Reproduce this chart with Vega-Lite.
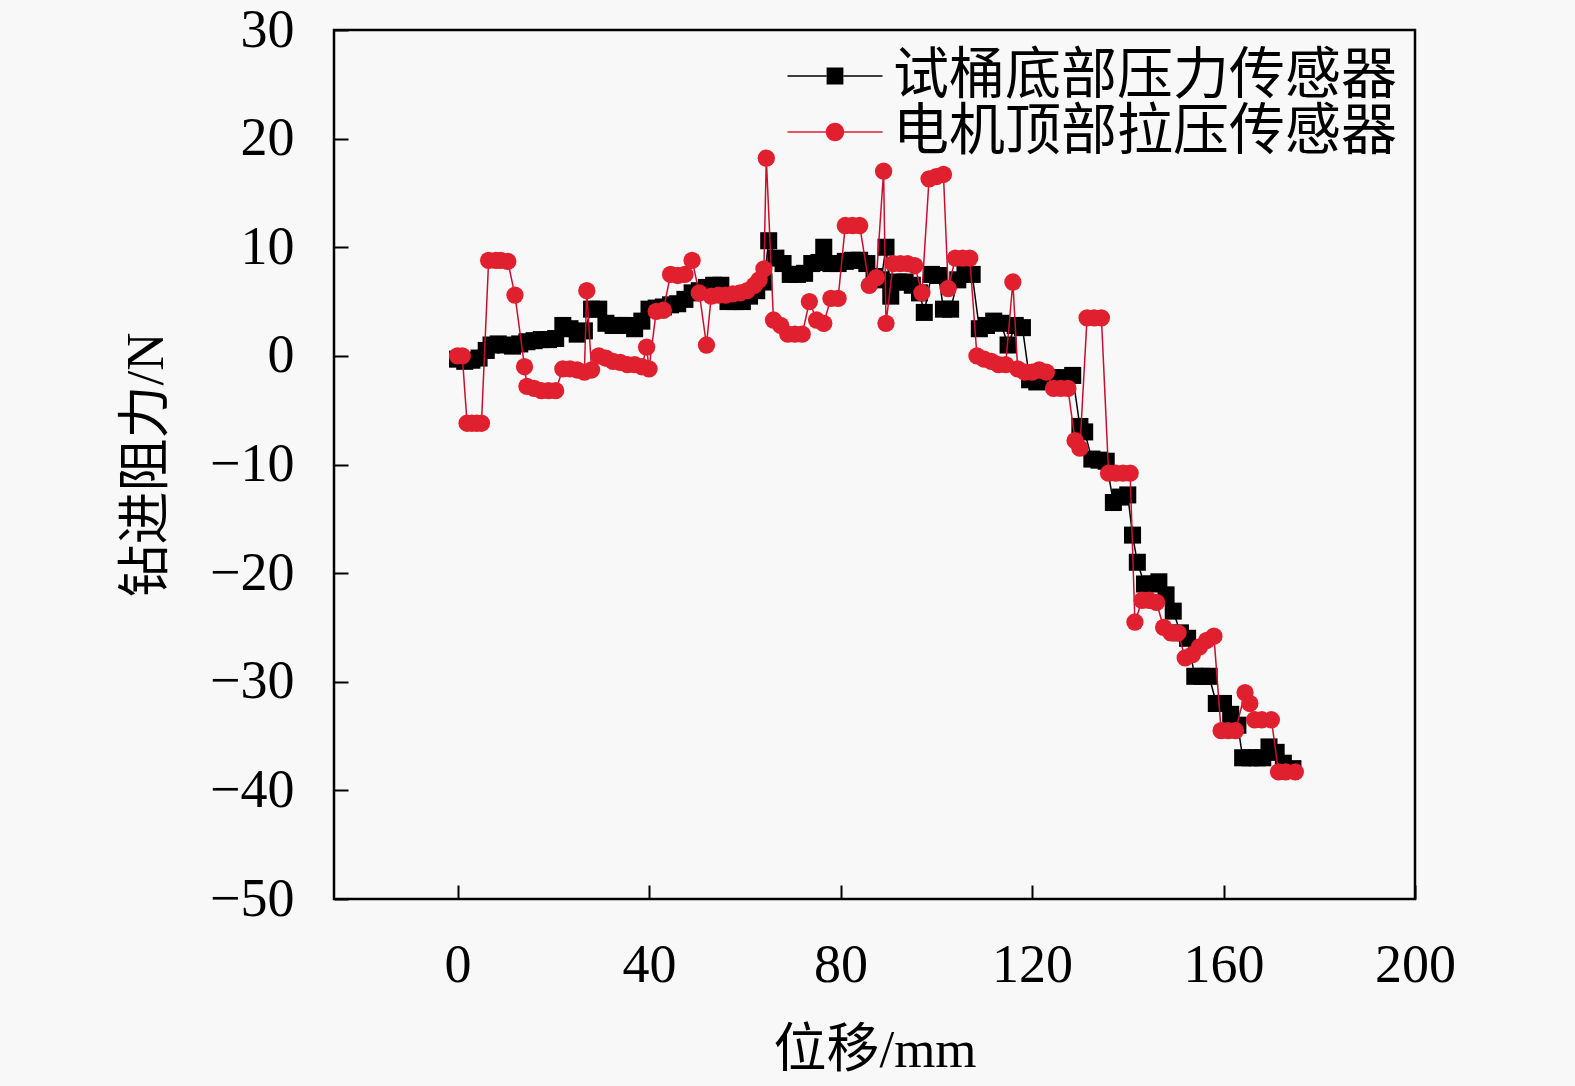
{
  "$schema": "https://vega.github.io/schema/vega-lite/v6.json",
  "width": 1081,
  "height": 869,
  "autosize": {"type": "none"},
  "padding": {"left": 334, "top": 30, "right": 160, "bottom": 187},
  "background": "#f8f8f8",
  "datasets": {
    "bottom": [
      {"x": 0, "y": -0.3}, {"x": 1.5, "y": -0.5}, {"x": 3, "y": -0.4}, {"x": 4.5, "y": -0.2},
      {"x": 6, "y": 0.5}, {"x": 7, "y": 1.0}, {"x": 8.5, "y": 1.1}, {"x": 10, "y": 1.0},
      {"x": 11.5, "y": 0.9}, {"x": 13, "y": 1.1}, {"x": 14.5, "y": 1.3}, {"x": 16, "y": 1.4},
      {"x": 17.5, "y": 1.5}, {"x": 19, "y": 1.5}, {"x": 20.5, "y": 1.6}, {"x": 22, "y": 2.8},
      {"x": 23.5, "y": 2.5}, {"x": 25, "y": 2.0}, {"x": 26.5, "y": 2.3}, {"x": 28, "y": 4.3},
      {"x": 29.5, "y": 4.3}, {"x": 31, "y": 3.0}, {"x": 32.5, "y": 2.8}, {"x": 34, "y": 2.8},
      {"x": 35.5, "y": 2.8}, {"x": 37, "y": 2.5}, {"x": 38.5, "y": 3.2}, {"x": 40, "y": 4.3},
      {"x": 41.5, "y": 4.4}, {"x": 43, "y": 4.5}, {"x": 44.5, "y": 4.7}, {"x": 46, "y": 4.8},
      {"x": 47.5, "y": 5.2}, {"x": 49, "y": 5.8}, {"x": 50.5, "y": 6.0}, {"x": 52, "y": 6.3},
      {"x": 53.5, "y": 6.5}, {"x": 55, "y": 6.5}, {"x": 56.5, "y": 5.0}, {"x": 58, "y": 5.0},
      {"x": 59.5, "y": 5.0}, {"x": 61, "y": 5.5}, {"x": 62.5, "y": 6.0}, {"x": 64, "y": 6.8},
      {"x": 65, "y": 10.6}, {"x": 66.5, "y": 9.0}, {"x": 68, "y": 8.5}, {"x": 69.5, "y": 7.5},
      {"x": 71, "y": 7.5}, {"x": 72.5, "y": 7.6}, {"x": 74, "y": 8.5}, {"x": 75.5, "y": 8.6},
      {"x": 76.5, "y": 10.0}, {"x": 78, "y": 8.5}, {"x": 79.5, "y": 8.5}, {"x": 81, "y": 8.7},
      {"x": 82.5, "y": 8.8}, {"x": 84, "y": 8.8}, {"x": 85.5, "y": 8.5}, {"x": 87, "y": 7.3},
      {"x": 88.5, "y": 7.0}, {"x": 89.5, "y": 10.0}, {"x": 90.5, "y": 5.5}, {"x": 92, "y": 6.8},
      {"x": 93.5, "y": 6.8}, {"x": 95, "y": 6.5}, {"x": 96.5, "y": 5.8}, {"x": 97.5, "y": 4.0},
      {"x": 99, "y": 7.5}, {"x": 100.5, "y": 7.4}, {"x": 101.5, "y": 4.3}, {"x": 103, "y": 4.3},
      {"x": 104.5, "y": 7.0}, {"x": 106, "y": 7.5}, {"x": 107.5, "y": 7.5}, {"x": 109, "y": 2.5},
      {"x": 110.5, "y": 2.8}, {"x": 112, "y": 3.2}, {"x": 113.5, "y": 3.0}, {"x": 115, "y": 1.0},
      {"x": 116.5, "y": 2.8}, {"x": 118, "y": 2.6}, {"x": 119.5, "y": -2.2}, {"x": 121, "y": -2.4},
      {"x": 122.5, "y": -2.2}, {"x": 124, "y": -2.0}, {"x": 125.5, "y": -2.2}, {"x": 127, "y": -2.0},
      {"x": 128.5, "y": -1.8}, {"x": 130, "y": -6.5}, {"x": 131, "y": -7.0}, {"x": 132.5, "y": -9.5},
      {"x": 134, "y": -9.6}, {"x": 135.5, "y": -9.7}, {"x": 137, "y": -13.5}, {"x": 138.5, "y": -13.0},
      {"x": 140, "y": -12.8}, {"x": 141, "y": -16.5}, {"x": 142, "y": -19.0}, {"x": 143.5, "y": -21.0},
      {"x": 145, "y": -21.0}, {"x": 146.5, "y": -20.8}, {"x": 148, "y": -22.0}, {"x": 149.5, "y": -23.5},
      {"x": 151, "y": -25.5}, {"x": 152.5, "y": -26.0}, {"x": 154, "y": -29.5}, {"x": 155.5, "y": -29.5},
      {"x": 157, "y": -29.5}, {"x": 158.5, "y": -32.0}, {"x": 160, "y": -32.0}, {"x": 161.5, "y": -33.0},
      {"x": 163, "y": -34.0}, {"x": 164, "y": -37.0}, {"x": 165.5, "y": -37.0}, {"x": 167, "y": -37.0},
      {"x": 168.2, "y": -37.0}, {"x": 169.5, "y": -36.0}, {"x": 171, "y": -36.5}, {"x": 172.5, "y": -37.5},
      {"x": 174.5, "y": -38.0}
    ],
    "motor": [
      {"x": 0, "y": 0.0}, {"x": 1, "y": 0.0}, {"x": 2, "y": -6.2}, {"x": 3, "y": -6.2},
      {"x": 4, "y": -6.2}, {"x": 5, "y": -6.2}, {"x": 6.5, "y": 8.8}, {"x": 8, "y": 8.8},
      {"x": 9, "y": 8.8}, {"x": 10.5, "y": 8.7}, {"x": 12, "y": 5.6}, {"x": 14, "y": -1.0},
      {"x": 14.5, "y": -2.8}, {"x": 16, "y": -3.0}, {"x": 17.5, "y": -3.2}, {"x": 19, "y": -3.2},
      {"x": 20.5, "y": -3.2}, {"x": 22, "y": -1.2}, {"x": 23.5, "y": -1.2}, {"x": 25, "y": -1.3},
      {"x": 26.5, "y": -1.5}, {"x": 27, "y": 6.0}, {"x": 28, "y": -1.3}, {"x": 29.5, "y": 0.0},
      {"x": 31, "y": -0.2}, {"x": 32.5, "y": -0.5}, {"x": 34, "y": -0.6}, {"x": 35.5, "y": -0.8},
      {"x": 37, "y": -0.8}, {"x": 38.5, "y": -1.0}, {"x": 39.5, "y": 0.8}, {"x": 40, "y": -1.2},
      {"x": 41.5, "y": 4.1}, {"x": 43, "y": 4.2}, {"x": 44.5, "y": 7.5}, {"x": 46, "y": 7.4},
      {"x": 47.5, "y": 7.5}, {"x": 49, "y": 8.8}, {"x": 50.5, "y": 5.8}, {"x": 52, "y": 1.0},
      {"x": 53, "y": 5.5}, {"x": 54.5, "y": 5.6}, {"x": 56, "y": 5.6}, {"x": 57.5, "y": 5.7},
      {"x": 59, "y": 5.8}, {"x": 60.5, "y": 6.0}, {"x": 62, "y": 6.5}, {"x": 63, "y": 7.0},
      {"x": 64, "y": 8.0}, {"x": 64.5, "y": 18.2}, {"x": 66, "y": 3.3}, {"x": 67.5, "y": 2.8},
      {"x": 69, "y": 2.0}, {"x": 70.5, "y": 2.0}, {"x": 72, "y": 2.0}, {"x": 73.5, "y": 5.0},
      {"x": 75, "y": 3.3}, {"x": 76.5, "y": 3.0}, {"x": 78, "y": 5.3}, {"x": 79.5, "y": 5.3},
      {"x": 81, "y": 12.0}, {"x": 82.5, "y": 12.0}, {"x": 84, "y": 12.0}, {"x": 86, "y": 6.5},
      {"x": 87.5, "y": 7.2}, {"x": 89, "y": 17.0}, {"x": 89.5, "y": 3.0}, {"x": 91, "y": 8.5},
      {"x": 92.5, "y": 8.5}, {"x": 94, "y": 8.5}, {"x": 95.5, "y": 8.3}, {"x": 97, "y": 5.8},
      {"x": 98.5, "y": 16.3}, {"x": 100, "y": 16.5}, {"x": 101.5, "y": 16.7}, {"x": 102.5, "y": 6.2},
      {"x": 104, "y": 9.0}, {"x": 105.5, "y": 9.0}, {"x": 107, "y": 9.0}, {"x": 108.5, "y": 0.0},
      {"x": 110, "y": -0.3}, {"x": 111.5, "y": -0.5}, {"x": 113, "y": -0.8}, {"x": 114.5, "y": -0.8},
      {"x": 116, "y": 6.8}, {"x": 117, "y": -1.2}, {"x": 118.5, "y": -1.5}, {"x": 120, "y": -1.5},
      {"x": 121.5, "y": -1.3}, {"x": 123, "y": -1.5}, {"x": 124.5, "y": -3.0}, {"x": 126, "y": -3.0},
      {"x": 127.5, "y": -3.0}, {"x": 129, "y": -7.8}, {"x": 130, "y": -8.5}, {"x": 131.5, "y": 3.5},
      {"x": 133, "y": 3.5}, {"x": 134.5, "y": 3.5}, {"x": 136, "y": -10.8}, {"x": 137.5, "y": -10.8},
      {"x": 139, "y": -10.8}, {"x": 140.5, "y": -10.8}, {"x": 141.5, "y": -24.5}, {"x": 143, "y": -22.5},
      {"x": 144.5, "y": -22.5}, {"x": 146, "y": -22.7}, {"x": 147.5, "y": -25.0}, {"x": 149, "y": -25.5},
      {"x": 150.5, "y": -25.5}, {"x": 152, "y": -27.8}, {"x": 153.5, "y": -27.5}, {"x": 155, "y": -26.8},
      {"x": 156.5, "y": -26.2}, {"x": 158, "y": -25.8}, {"x": 159.5, "y": -34.5}, {"x": 161, "y": -34.5},
      {"x": 162.5, "y": -34.5}, {"x": 164.5, "y": -31.0}, {"x": 165.5, "y": -32.0}, {"x": 166.5, "y": -33.5},
      {"x": 168, "y": -33.5}, {"x": 170, "y": -33.5}, {"x": 171.5, "y": -38.3}, {"x": 173, "y": -38.3},
      {"x": 175, "y": -38.3}
    ],
    "series": [
      {"s": "试桶底部压力传感器"},
      {"s": "电机顶部拉压传感器"}
    ]
  },
  "encoding": {
    "x": {
      "field": "x",
      "type": "quantitative",
      "title": "位移/mm",
      "scale": {"domain": [-25.8, 200], "nice": false, "zero": false},
      "axis": {"values": [0, 40, 80, 120, 160, 200], "labelFlush": false, "labelPadding": 53, "titlePadding": 32}
    },
    "y": {
      "field": "y",
      "type": "quantitative",
      "title": "钻进阻力/N",
      "scale": {"domain": [-50, 30], "nice": false, "zero": false},
      "axis": {"values": [-50, -40, -30, -20, -10, 0, 10, 20, 30], "labelFlush": false, "labelPadding": 54, "titlePadding": 36}
    }
  },
  "layer": [
    {
      "data": {"name": "bottom"},
      "mark": {"type": "line", "color": "#000000", "strokeWidth": 1.5}
    },
    {
      "data": {"name": "bottom"},
      "mark": {"type": "point", "shape": "square", "filled": true, "size": 290, "color": "#000000", "opacity": 1}
    },
    {
      "data": {"name": "motor"},
      "mark": {"type": "line", "color": "#c8102e", "strokeWidth": 1.5}
    },
    {
      "data": {"name": "motor"},
      "mark": {"type": "point", "shape": "circle", "filled": true, "size": 300, "color": "#e0202e", "opacity": 1}
    },
    {
      "data": {"name": "series"},
      "transform": [{"filter": "false"}],
      "mark": {"type": "point", "filled": true, "opacity": 1},
      "encoding": {
        "x": {"field": "x", "type": "quantitative"},
        "y": {"field": "y", "type": "quantitative"},
        "color": {
          "field": "s",
          "type": "nominal",
          "sort": null,
          "scale": {"domain": ["试桶底部压力传感器", "电机顶部拉压传感器"], "range": ["#000000", "#e0202e"]},
          "legend": {
            "title": null,
            "orient": "none",
            "legendX": 473,
            "legendY": 18,
            "padding": 0,
            "symbolSize": 1600,
            "symbolStrokeWidth": 0,
            "labelFontSize": 56,
            "labelOffset": 30,
            "labelColor": "#000000",
            "labelLimit": 0,
            "rowPadding": 0
          }
        },
        "shape": {
          "field": "s",
          "type": "nominal",
          "sort": null,
          "scale": {
            "domain": ["试桶底部压力传感器", "电机顶部拉压传感器"],
            "range": [
              "M-2.375,-0.04H-0.43V0.04H-2.375Z M0.43,-0.04H2.375V0.04H0.43Z M-0.42,-0.42H0.42V0.42H-0.42Z",
              "M-2.375,-0.04H-0.46V0.04H-2.375Z M0.46,-0.04H2.375V0.04H0.46Z M-0.46,0A0.46,0.46 0 1,1 0.46,0A0.46,0.46 0 1,1 -0.46,0Z"
            ]
          },
          "legend": {"title": null}
        }
      }
    }
  ],
  "config": {
    "font": "Liberation Serif, Noto Sans CJK SC",
    "view": {"stroke": "#000000", "strokeWidth": 2.5},
    "axis": {
      "domain": false,
      "grid": false,
      "labelFont": "Liberation Serif, Noto Sans CJK SC",
      "labelFontSize": 54,
      "labelColor": "#000000",
      "titleFont": "Liberation Serif, Noto Sans CJK SC",
      "titleFontSize": 53,
      "titleFontWeight": "normal",
      "titleColor": "#000000",
      "tickColor": "#000000",
      "tickWidth": 2,
      "tickSize": -14
    },
    "legend": {
      "labelFont": "Liberation Serif, Noto Sans CJK SC"
    }
  }
}
